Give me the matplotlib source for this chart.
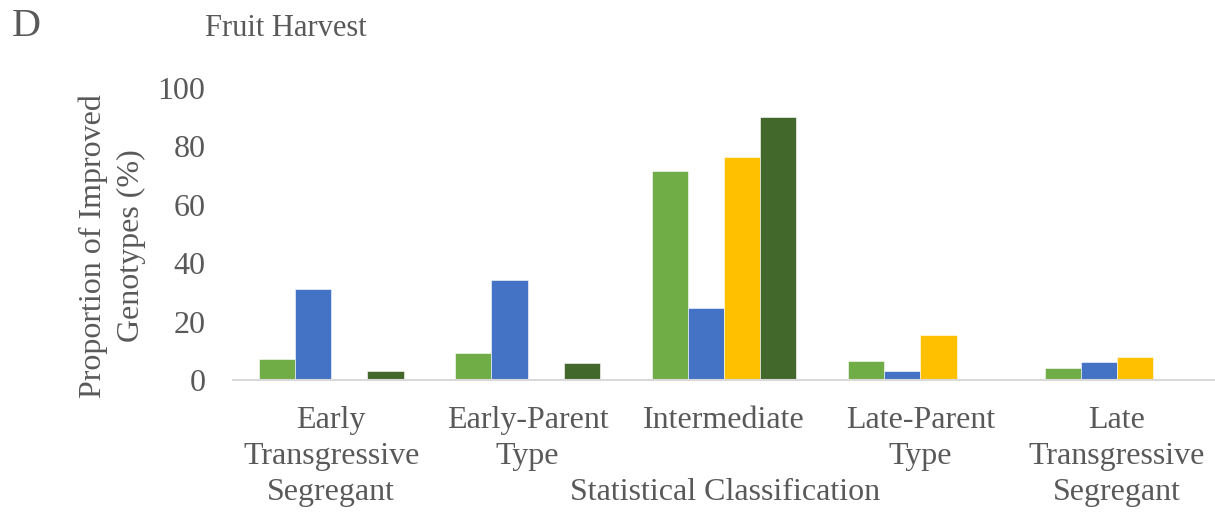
import matplotlib.pyplot as plt
import numpy as np

# Data
categories = ["Early\nTransgressive\nSegregant", "Early-Parent\nType", "Intermediate",
              "Late-Parent\nType", "Late\nTransgressive\nSegregant"]
series_1 = [7.3, 9.2, 71.7, 6.6, 4.2]    # light green
series_2 = [31.1, 34.2, 24.8, 3.0, 6.0]  # blue
series_3 = [0.0, 0.0, 76.2, 15.4, 7.8]   # gold
series_4 = [3.0, 5.9, 90.2, 0.0, 0.0]    # dark green
colors = ["#70AD47", "#4472C4", "#FFC000", "#43682B"]

plt.rcParams['font.family'] = ['Liberation Serif', 'DejaVu Serif']
grey = "#595959"

fig = plt.figure(figsize=(12.15, 5.13), dpi=100)
ax = fig.add_axes([0.1918, 0.2593, 0.8082, 0.5692])

x = np.arange(len(categories))
w = 0.184
for i, (vals, c) in enumerate(zip([series_1, series_2, series_3, series_4], colors)):
    ax.bar(x + (i - 1.5) * w, vals, width=w, color=c, edgecolor="white", linewidth=0.4)

ax.set_xlim(-0.5, 4.5)
ax.set_ylim(0, 100)
ax.set_yticks(range(0, 101, 20))
ax.set_xticks(x)
ax.set_xticklabels(categories, linespacing=1.3)
ax.tick_params(axis='both', length=0, labelsize=23, colors=grey)
ax.tick_params(axis='y', pad=20)
ax.tick_params(axis='x', pad=19)
for s in ["top", "right", "left"]:
    ax.spines[s].set_visible(False)
ax.spines["bottom"].set_color("#D9D9D9")
ax.spines["bottom"].set_linewidth(1.5)

fig.text(12 / 1215, 1 - 27 / 513, "D", fontsize=29, color=grey, va="center", ha="left")
fig.text(205 / 1215, 1 - 29 / 513, "Fruit Harvest", fontsize=22, color=grey, va="center", ha="left")
fig.text(112 / 1215, 1 - 246 / 513, "Proportion of Improved\nGenotypes (%)", fontsize=23,
         color=grey, rotation=90, va="center", ha="center", multialignment="center", linespacing=1.4)
fig.text(725 / 1215, 1 - 493 / 513, "Statistical Classification", fontsize=23, color=grey,
         va="center", ha="center")

fig.savefig("out.png", dpi=100)
